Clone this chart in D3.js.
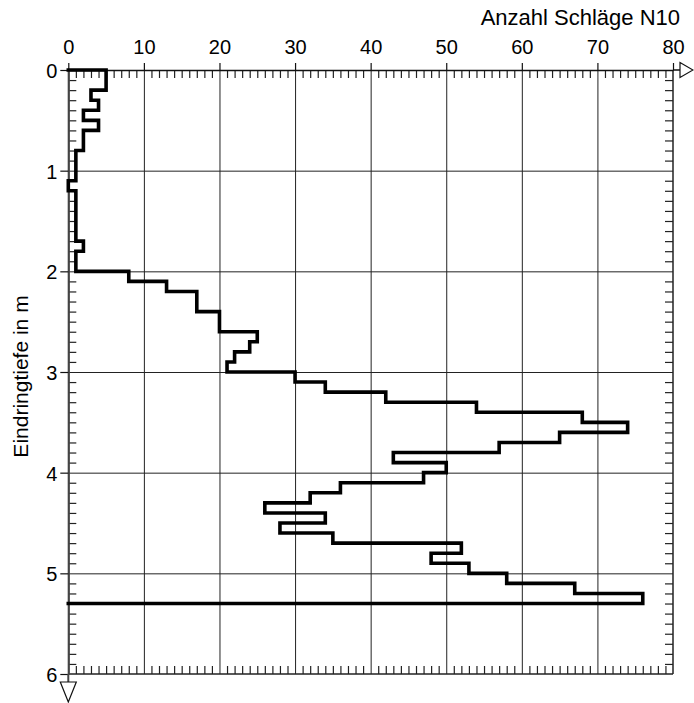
<!DOCTYPE html>
<html>
<head>
<meta charset="utf-8">
<script src="https://cdn.jsdelivr.net/npm/d3@7"></script>
<style>
  body { margin: 0; background: #fff; }
  svg { display: block; }
  text { font-family: "Liberation Sans", Arial, Helvetica, sans-serif; }
</style>
</head>
<body>
<div id="chart"></div>
<script>
// Rammsondierung: Tiefe (Oberkante je 10 cm) und Schlagzahl N10
var depthTop = [0.0, 0.1, 0.2, 0.3, 0.4, 0.5, 0.6, 0.7, 0.8, 0.9,
                1.0, 1.1, 1.2, 1.3, 1.4, 1.5, 1.6, 1.7, 1.8, 1.9,
                2.0, 2.1, 2.2, 2.3, 2.4, 2.5, 2.6, 2.7, 2.8, 2.9,
                3.0, 3.1, 3.2, 3.3, 3.4, 3.5, 3.6, 3.7, 3.8, 3.9,
                4.0, 4.1, 4.2, 4.3, 4.4, 4.5, 4.6, 4.7, 4.8, 4.9,
                5.0, 5.1, 5.2];
var blows = [5, 5, 3, 4, 2, 4, 2, 2, 1, 1,
             1, 0, 1, 1, 1, 1, 1, 2, 1, 1,
             8, 13, 17, 17, 20, 20, 25, 24, 22, 21,
             30, 34, 42, 54, 68, 74, 65, 57, 43, 50,
             47, 36, 32, 26, 34, 28, 35, 52, 48, 53,
             58, 67, 76];
var step = 0.1;

var xTicks = [0, 10, 20, 30, 40, 50, 60, 70, 80];
var yTicks = [0, 1, 2, 3, 4, 5, 6];
var xTitle = "Anzahl Schläge N10";
var yTitle = "Eindringtiefe in m";

var W = 694, H = 703;
var pLeft = 68.3, pRight = 673, pTop = 70, pBottom = 674;

var x = d3.scaleLinear().domain([0, 80]).range([pLeft, pRight]);
var y = d3.scaleLinear().domain([0, 6]).range([pTop, pBottom]);

var svg = d3.select("#chart").append("svg")
  .attr("width", W)
  .attr("height", H);

// minor ticks
var xMinor = d3.range(0, 81, 1).filter(function(d) { return d % 10 != 0; });
var yMinor = d3.range(0, 61, 1).filter(function(d) { return d % 10 != 0; }).map(function(d) { return d / 10; });

// grid
svg.append("g")
  .attr("transform", "translate(0," + pTop + ")")
  .call(d3.axisTop(x).tickValues(xTicks.slice(1, -1)).tickSize(-(pBottom - pTop)).tickFormat(""))
  .call(function(g) { g.select(".domain").remove(); })
  .selectAll("line").attr("stroke", "#222").attr("stroke-width", 1);

svg.append("g")
  .attr("transform", "translate(" + pLeft + ",0)")
  .call(d3.axisLeft(y).tickValues(yTicks.slice(1, -1)).tickSize(-(pRight - pLeft)).tickFormat(""))
  .call(function(g) { g.select(".domain").remove(); })
  .selectAll("line").attr("stroke", "#222").attr("stroke-width", 1);

// inner minor ticks on all four sides
function minor(g, axis) {
  g.call(axis.tickFormat("").tickSizeOuter(0));
  g.select(".domain").remove();
  g.selectAll("line").attr("stroke", "#222").attr("stroke-width", 1.2);
}
svg.append("g").attr("transform", "translate(0," + pTop + ")")
  .call(minor, d3.axisTop(x).tickValues(xMinor).tickSize(-8));
svg.append("g").attr("transform", "translate(0," + pBottom + ")")
  .call(minor, d3.axisBottom(x).tickValues(xMinor).tickSize(-8));
svg.append("g").attr("transform", "translate(" + pLeft + ",0)")
  .call(minor, d3.axisLeft(y).tickValues(yMinor).tickSize(-8));
svg.append("g").attr("transform", "translate(" + pRight + ",0)")
  .call(minor, d3.axisRight(y).tickValues(yMinor).tickSize(-8));

// frame right + bottom
svg.append("line")
  .attr("x1", pRight).attr("x2", pRight).attr("y1", pTop).attr("y2", pBottom)
  .attr("stroke", "#222").attr("stroke-width", 1.5);
svg.append("line")
  .attr("x1", pLeft).attr("x2", pRight).attr("y1", pBottom).attr("y2", pBottom)
  .attr("stroke", "#222").attr("stroke-width", 1.5);

// top axis with labels
var xAxis = svg.append("g")
  .attr("transform", "translate(0," + pTop + ")")
  .call(d3.axisTop(x).tickValues(xTicks).tickSize(7).tickPadding(9).tickSizeOuter(0));
xAxis.select(".domain").attr("stroke", "#111").attr("stroke-width", 1.5);
xAxis.selectAll("line").attr("stroke", "#111").attr("stroke-width", 1.2);
xAxis.selectAll("text").attr("font-size", 20).attr("fill", "#000")
  .attr("font-family", "'Liberation Sans', Arial, sans-serif");

// left axis with labels
var yAxis = svg.append("g")
  .attr("transform", "translate(" + pLeft + ",0)")
  .call(d3.axisLeft(y).tickValues(yTicks).tickFormat(d3.format("d"))
    .tickSize(8).tickPadding(3).tickSizeOuter(0));
yAxis.select(".domain").attr("stroke", "#444").attr("stroke-width", 2.2);
yAxis.selectAll("line").attr("stroke", "#111").attr("stroke-width", 1.2);
yAxis.selectAll("text").attr("font-size", 20).attr("fill", "#000").attr("dy", "0.38em")
  .attr("font-family", "'Liberation Sans', Arial, sans-serif");

// axis extensions + arrows
svg.append("line")
  .attr("x1", pRight).attr("x2", pRight + 7).attr("y1", pTop).attr("y2", pTop)
  .attr("stroke", "#111").attr("stroke-width", 1.5);
svg.append("path")
  .attr("d", "M" + (pRight + 7) + "," + (pTop - 7.5) + "L" + (pRight + 20) + "," + pTop + "L" + (pRight + 7) + "," + (pTop + 7.5) + "Z")
  .attr("fill", "#fff").attr("stroke", "#111").attr("stroke-width", 1.2);
svg.append("line")
  .attr("x1", pLeft).attr("x2", pLeft).attr("y1", pBottom).attr("y2", pBottom + 8)
  .attr("stroke", "#444").attr("stroke-width", 2);
svg.append("path")
  .attr("d", "M" + (pLeft - 8) + "," + (pBottom + 8) + "L" + (pLeft + 8) + "," + (pBottom + 8) + "L" + pLeft + "," + (pBottom + 28) + "Z")
  .attr("fill", "#fff").attr("stroke", "#111").attr("stroke-width", 1.2);

// titles
svg.append("text")
  .attr("x", 680).attr("y", 25)
  .attr("text-anchor", "end")
  .attr("font-size", 22)
  .text(xTitle);

svg.append("text")
  .attr("transform", "translate(28,376.5) rotate(-90)")
  .attr("text-anchor", "middle")
  .attr("font-size", 21)
  .text(yTitle);

// step profile
var pts = [[0, 0]];
blows.forEach(function(v, i) {
  pts.push([v, depthTop[i]]);
  pts.push([v, depthTop[i] + step]);
});
pts.push([0, depthTop[depthTop.length - 1] + step]);

var line = d3.line()
  .x(function(d) { return x(d[0]); })
  .y(function(d) { return y(d[1]); });

svg.append("path")
  .datum(pts)
  .attr("d", line)
  .attr("fill", "none")
  .attr("stroke", "#000")
  .attr("stroke-width", 3.6)
  .attr("stroke-linejoin", "miter")
  .attr("stroke-linecap", "square");
</script>
</body>
</html>
